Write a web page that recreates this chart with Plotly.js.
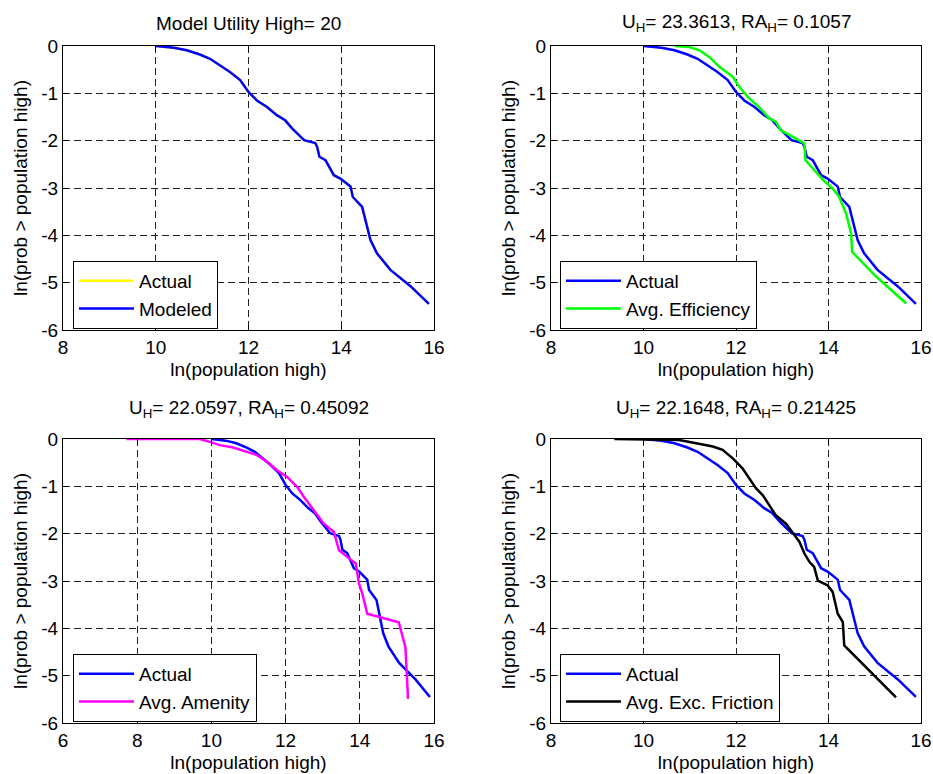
<!DOCTYPE html>
<html>
<head>
<meta charset="utf-8">
<script src="https://cdn.plot.ly/plotly-3.0.1.min.js"></script>
<style>html,body{margin:0;padding:0;background:#fff;}#chart{width:933px;height:774px;}</style>
</head>
<body>
<div id="chart"></div>
<script>
// Actual (observed) distribution
const actualX = [10.0,10.39,10.67,10.95,11.17,11.39,11.6,11.82,12.0,12.18,12.4,12.61,12.79,12.94,13.08,13.2,13.44,13.48,13.53,13.66,13.84,13.98,14.2,14.25,14.45,14.56,14.63,14.77,15.06,15.5,15.89];
const actualY = [0,-0.035,-0.09,-0.18,-0.27,-0.41,-0.55,-0.72,-0.97,-1.15,-1.29,-1.46,-1.57,-1.74,-1.88,-1.99,-2.05,-2.13,-2.34,-2.41,-2.73,-2.8,-2.97,-3.19,-3.4,-3.82,-4.1,-4.38,-4.73,-5.08,-5.45];
// Modeled (panel 1) — coincides with actual
const modeledX = [10.0,10.39,10.67,10.95,11.17,11.39,11.6,11.82,12.0,12.18,12.4,12.61,12.79,12.94,13.08,13.2,13.44,13.48,13.53,13.66,13.84,13.98,14.2,14.25,14.45,14.56,14.63,14.77,15.06,15.5,15.89];
const modeledY = [0,-0.035,-0.09,-0.18,-0.27,-0.41,-0.55,-0.72,-0.97,-1.15,-1.29,-1.46,-1.57,-1.74,-1.88,-1.99,-2.05,-2.13,-2.34,-2.41,-2.73,-2.8,-2.97,-3.19,-3.4,-3.82,-4.1,-4.38,-4.73,-5.08,-5.45];
// Avg. Efficiency
const effX = [10.67,10.99,11.21,11.42,11.64,11.93,12.07,12.29,12.5,12.72,12.86,12.97,13.23,13.48,13.5,13.73,13.88,14.09,14.23,14.38,14.49,14.51,15.03,15.68];
const effY = [0,-0.02,-0.09,-0.23,-0.44,-0.65,-0.86,-1.11,-1.29,-1.53,-1.6,-1.78,-1.92,-2.06,-2.41,-2.66,-2.83,-3.01,-3.19,-3.54,-3.96,-4.35,-4.87,-5.44];
// Avg. Amenity
const amenX = [7.71,9.69,9.96,10.23,10.59,10.95,11.23,11.5,11.77,12.04,12.31,12.49,12.76,13.03,13.3,13.44,13.66,13.89,13.98,14.07,14.2,15.05,15.23,15.3];
const amenY = [0,0,-0.06,-0.13,-0.18,-0.27,-0.34,-0.48,-0.66,-0.8,-1.01,-1.22,-1.5,-1.79,-1.96,-2.35,-2.49,-2.63,-3.06,-3.27,-3.69,-3.87,-4.4,-5.49];
// Avg. Exc. Friction
const fricX = [9.37,10.77,11.14,11.5,11.71,11.93,12.14,12.29,12.43,12.58,12.72,12.86,13.08,13.23,13.37,13.48,13.59,13.69,13.77,13.98,14.09,14.2,14.31,14.34,15.46];
const fricY = [0,-0.02,-0.09,-0.16,-0.23,-0.41,-0.62,-0.83,-1.04,-1.19,-1.4,-1.61,-1.79,-2.0,-2.17,-2.42,-2.6,-2.7,-2.99,-3.09,-3.23,-3.69,-3.87,-4.36,-5.46];

const titles = [
  "Model Utility High= 20",
  "U<sub>H</sub>= 23.3613, RA<sub>H</sub>= 0.1057",
  "U<sub>H</sub>= 22.0597, RA<sub>H</sub>= 0.45092",
  "U<sub>H</sub>= 22.1648, RA<sub>H</sub>= 0.21425"
];
const xTicks1 = [8,10,12,14,16];
const xTicks3 = [6,8,10,12,14,16];
const yTicks = [0,-1,-2,-3,-4,-5,-6];
const xLabel = "ln(population high)";
const yLabel = "ln(prob > population high)";

const FONT = 'Liberation Sans, Arial, Helvetica, sans-serif';
const FS = 19;
const LW = 2.5;

function tr(x, y, name, color, xa, ya, lg) {
  return {x: x, y: y, name: name, type: 'scatter', mode: 'lines',
    line: {color: color, width: LW}, xaxis: xa, yaxis: ya, legend: lg};
}

const data = [
  tr(actualX, actualY, 'Actual', '#FFFF00', 'x', 'y', 'legend'),
  tr(modeledX, modeledY, 'Modeled', '#0000FF', 'x', 'y', 'legend'),
  tr(actualX, actualY, 'Actual', '#0000FF', 'x2', 'y2', 'legend2'),
  tr(effX, effY, 'Avg. Efficiency', '#00FF00', 'x2', 'y2', 'legend2'),
  tr(actualX, actualY, 'Actual', '#0000FF', 'x3', 'y3', 'legend3'),
  tr(amenX, amenY, 'Avg. Amenity', '#FF00FF', 'x3', 'y3', 'legend3'),
  tr(actualX, actualY, 'Actual', '#0000FF', 'x4', 'y4', 'legend4'),
  tr(fricX, fricY, 'Avg. Exc. Friction', '#000000', 'x4', 'y4', 'legend4')
];

const W = 933, H = 774;
const xdL = [63/W, 434/W], xdR = [551/W, 921/W];
const ydT = [1-330/H, 1-46/H], ydB = [1-723/H, 1-439/H];

function xax(dom, anchor, range, ticks) {
  return {domain: dom, anchor: anchor, range: range, tickvals: ticks, ticktext: ticks.map(String),
    showline: true, mirror: 'all', linecolor: '#000', linewidth: 1,
    ticks: 'inside', ticklen: 5, tickcolor: '#000',
    showgrid: true, gridcolor: '#222', griddash: '7px,4px', gridwidth: 1,
    zeroline: false, tickfont: {family: FONT, size: FS, color: '#000'},
    title: {text: xLabel, font: {family: FONT, size: FS, color: '#000'}, standoff: 5}};
}
function yax(dom, anchor) {
  return {domain: dom, anchor: anchor, range: [-6, 0], tickvals: yTicks, ticktext: yTicks.map(String),
    showline: true, mirror: 'all', linecolor: '#000', linewidth: 1,
    ticks: 'inside', ticklen: 5, tickcolor: '#000',
    showgrid: true, gridcolor: '#222', griddash: '7px,4px', gridwidth: 1,
    zeroline: false, tickfont: {family: FONT, size: FS, color: '#000'},
    title: {text: yLabel, font: {family: FONT, size: FS, color: '#000'}, standoff: 8}};
}
function leg(x, y) {
  return {x: x, y: y, xanchor: 'left', yanchor: 'top', bgcolor: '#fff', bordercolor: '#000', borderwidth: 1,
    font: {family: FONT, size: FS, color: '#000'}, itemwidth: 55, tracegroupgap: 0};
}
function ann(text, x, y) {
  return {text: text, x: x, y: y, xref: 'paper', yref: 'paper', xanchor: 'center', yanchor: 'middle',
    showarrow: false, font: {family: FONT, size: FS, color: '#000'}};
}

const layout = {
  width: W, height: H, margin: {l: 0, r: 0, t: 0, b: 0},
  paper_bgcolor: '#fff', plot_bgcolor: '#fff', showlegend: true,
  xaxis: xax(xdL, 'y', [8, 16], xTicks1), yaxis: yax(ydT, 'x'),
  xaxis2: xax(xdR, 'y2', [8, 16], xTicks1), yaxis2: yax(ydT, 'x2'),
  xaxis3: xax(xdL, 'y3', [6, 16], xTicks3), yaxis3: yax(ydB, 'x3'),
  xaxis4: xax(xdR, 'y4', [8, 16], xTicks1), yaxis4: yax(ydB, 'x4'),
  legend: leg(73/W, 1-261/H),
  legend2: leg(560/W, 1-261/H),
  legend3: leg(73/W, 1-654/H),
  legend4: leg(560/W, 1-654/H),
  annotations: [
    ann(titles[0], (xdL[0]+xdL[1])/2, 1-23/H),
    ann(titles[1], (xdR[0]+xdR[1])/2, 1-23/H),
    ann(titles[2], (xdL[0]+xdL[1])/2, 1-409/H),
    ann(titles[3], (xdR[0]+xdR[1])/2, 1-409/H)
  ]
};

Plotly.newPlot('chart', data, layout, {staticPlot: true, displayModeBar: false});
</script>
</body>
</html>
